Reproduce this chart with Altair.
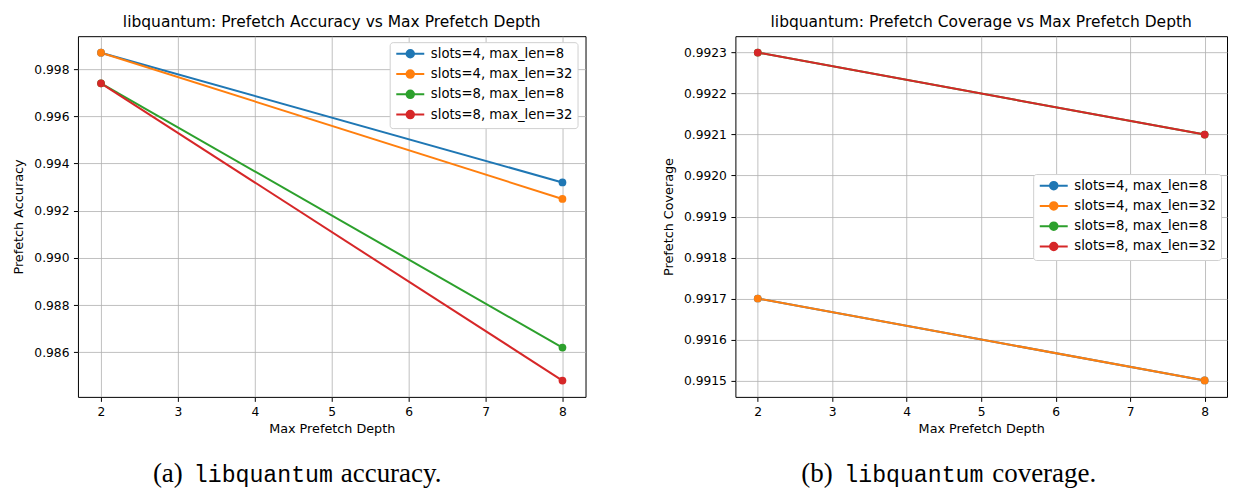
import altair as alt
import pandas as pd

# ---- data ----
series = ["slots=4, max_len=8", "slots=4, max_len=32", "slots=8, max_len=8", "slots=8, max_len=32"]
colors = ["#1f77b4", "#ff7f0e", "#2ca02c", "#d62728"]
depths = [2, 8]

acc_s4_l8 = [0.9987, 0.9932]
acc_s4_l32 = [0.9987, 0.9925]
acc_s8_l8 = [0.9974, 0.9862]
acc_s8_l32 = [0.9974, 0.9848]

cov_s4_l8 = [0.9917, 0.9915]
cov_s4_l32 = [0.9917, 0.9915]
cov_s8_l8 = [0.9923, 0.9921]
cov_s8_l32 = [0.9923, 0.9921]

acc_ticks = [0.986, 0.988, 0.990, 0.992, 0.994, 0.996, 0.998]
cov_ticks = [0.9915, 0.9916, 0.9917, 0.9918, 0.9919, 0.9920, 0.9921, 0.9922, 0.9923]
x_ticks = [2, 3, 4, 5, 6, 7, 8]

cap_a = ["(a)", "libquantum", "accuracy."]
cap_b = ["(b)", "libquantum", "coverage."]


def frame(vals):
    rows = []
    for i, (name, ys) in enumerate(zip(series, vals)):
        for d, v in zip(depths, ys):
            rows.append({"depth": d, "value": v, "series": name, "k": i})
    return pd.DataFrame(rows)


acc_df = frame([acc_s4_l8, acc_s4_l32, acc_s8_l8, acc_s8_l32])
cov_df = frame([cov_s4_l8, cov_s4_l32, cov_s8_l8, cov_s8_l32])

# legend symbol: a short line with a solid dot (concentric rings fill the dot)
SYM = ("M-2.8,0H2.8"
       "M-0.15,0A0.15,0.15,0,1,1,0.15,0A0.15,0.15,0,1,1,-0.15,0"
       "M-0.45,0A0.45,0.45,0,1,1,0.45,0A0.45,0.45,0,1,1,-0.45,0"
       "M-0.75,0A0.75,0.75,0,1,1,0.75,0A0.75,0.75,0,1,1,-0.75,0")

CAP_Y = 446


def panel(df, title, ytitle, yticks, ydom, yfmt, width, lx, ly, caption, capx):
    x = alt.X("depth:Q", scale=alt.Scale(domain=[1.7, 8.3], nice=False, zero=False),
              axis=alt.Axis(values=x_ticks, format="d", title="Max Prefetch Depth",
                            titlePadding=4))
    y = alt.Y("value:Q", scale=alt.Scale(domain=ydom, nice=False, zero=False),
              axis=alt.Axis(values=yticks, format=yfmt, title=ytitle, titlePadding=8))
    legend = alt.Legend(title=None, orient="none", legendX=lx, legendY=ly,
                        fillColor="white", strokeColor="#d0d0d0", cornerRadius=3,
                        padding=5, labelFont="DejaVu Sans", labelFontSize=13.2,
                        labelColor="#000000", symbolType=SYM, symbolSize=100,
                        symbolStrokeWidth=2, symbolOffset=9, labelOffset=14,
                        rowPadding=3.3)
    line = alt.Chart(df).mark_line(strokeWidth=2).encode(
        x=x, y=y,
        color=alt.Color("series:N", scale=alt.Scale(domain=series, range=colors), legend=legend),
        order="depth:Q",
    )
    pts = alt.Chart(df).mark_circle(size=60, opacity=1).encode(
        x=x, y=y,
        color=alt.Color("series:N", scale=alt.Scale(domain=series, range=colors), legend=None),
        order="k:Q",
    )
    fonts = ["Liberation Serif", "Liberation Mono", "Liberation Serif"]
    sizes = [27, 23.2, 27]
    caps = []
    for t, f, s, cx in zip(caption, fonts, sizes, capx):
        caps.append(
            alt.Chart(pd.DataFrame({"t": [t]})).mark_text(
                font=f, fontSize=s, align="left", baseline="alphabetic", color="#000000"
            ).encode(text="t:N", x=alt.value(cx), y=alt.value(CAP_Y))
        )
    return alt.layer(line, pts, *caps).properties(
        width=width, height=361, title=title
    )


left = panel(acc_df, "libquantum: Prefetch Accuracy vs Max Prefetch Depth", "Prefetch Accuracy",
             acc_ticks, [0.98411, 0.99940], ".3f", 508, 312, 6, cap_a, [75, 116, 263])
right = panel(cov_df, "libquantum: Prefetch Coverage vs Max Prefetch Depth", "Prefetch Coverage",
              cov_ticks, [0.99146, 0.99234], ".4f", 492, 298, 138, cap_b, [66, 109, 257])

chart = alt.hconcat(left, right, spacing=75).resolve_scale(
    color="independent", x="independent", y="independent"
).resolve_legend(color="independent").properties(
    padding={"left": 4, "top": 6, "right": 0, "bottom": 0}
).configure_view(
    stroke="#000000", strokeWidth=1
).configure_axis(
    domain=False, grid=True, gridColor="#b0b0b0", gridWidth=0.8,
    tickColor="#000000", tickSize=4.5, tickWidth=1,
    labelFont="DejaVu Sans", labelFontSize=12.3, labelColor="#000000",
    titleFont="DejaVu Sans", titleFontSize=12.8, titleFontWeight="normal", titleColor="#000000",
    labelPadding=4.5,
).configure_title(
    font="DejaVu Sans", fontSize=15.5, fontWeight="normal", color="#000000", offset=6
)

chart.save("out.html", embed_options={"renderer": "svg", "actions": False})
